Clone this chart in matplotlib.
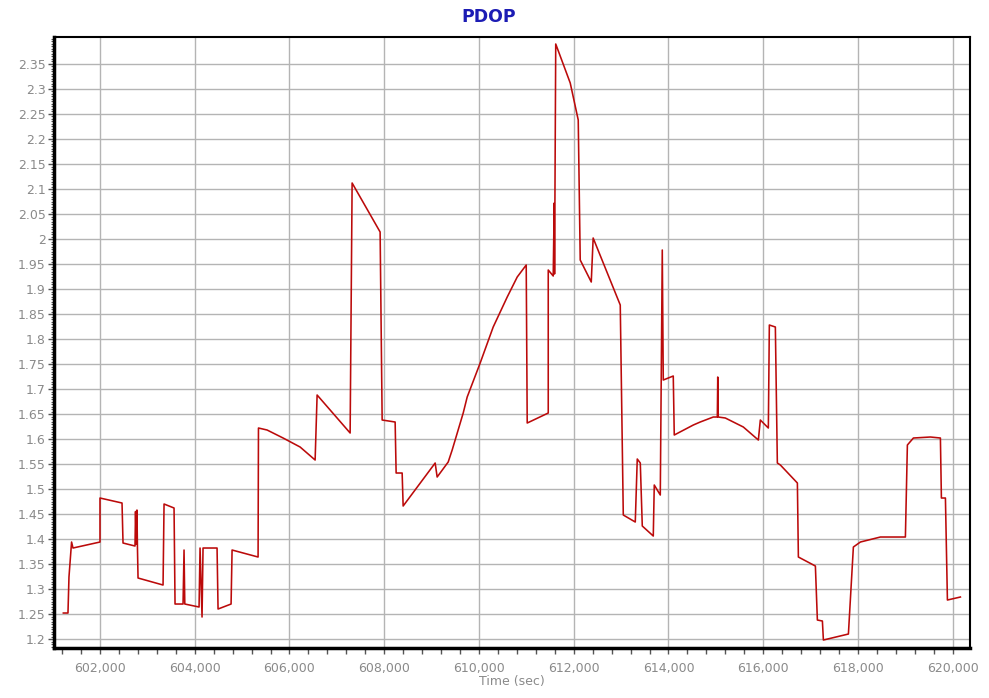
import numpy as np
import matplotlib
matplotlib.use("Agg")
import matplotlib.pyplot as plt
from matplotlib.ticker import MultipleLocator, FixedLocator, FuncFormatter

# PDOP trace (time in seconds, PDOP value)
time_sec = [
    601226, 601324, 601345, 601400, 601430, 602000, 602000, 602465, 602486,
    602739, 602750, 602765, 602780, 602790, 602803, 603331, 603352, 603563,
    603584, 603753, 603774, 603790, 604091, 604112, 604154, 604175, 604471,
    604492, 604767, 604788, 605337, 605345, 605527, 605865, 606224, 606541,
    606583, 607280, 607322, 607913, 607956, 608230, 608251, 608378, 608399,
    609075, 609117, 609350, 609434, 609667, 609751, 610025, 610300, 610596,
    610807, 610997, 611018, 611462, 611462, 611567, 611588, 611595, 611620,
    611926, 612095, 612137, 612370, 612410, 612982, 613046, 613299, 613341,
    613405, 613447, 613679, 613700, 613827, 613869, 613890, 614101, 614122,
    614524, 614670, 614946, 615031, 615040, 615050, 615200, 615580, 615897,
    615939, 616108, 616129, 616256, 616298, 616362, 616721, 616742, 617101,
    617143, 617249, 617270, 617798, 617903, 618051, 618473, 619001, 619043,
    619170, 619529, 619740, 619761, 619846, 619888, 620162,
]
pdop = [
    1.252, 1.252, 1.324, 1.394, 1.382, 1.394, 1.482, 1.472, 1.392,
    1.386, 1.455, 1.390, 1.458, 1.386, 1.322, 1.308, 1.470, 1.462,
    1.270, 1.270, 1.378, 1.270, 1.264, 1.382, 1.244, 1.382, 1.382,
    1.260, 1.270, 1.378, 1.364, 1.622, 1.618, 1.602, 1.584, 1.558,
    1.688, 1.612, 2.112, 2.014, 1.638, 1.634, 1.532, 1.532, 1.466,
    1.552, 1.524, 1.554, 1.578, 1.652, 1.684, 1.752, 1.824, 1.884,
    1.924, 1.948, 1.632, 1.652, 1.938, 1.926, 2.072, 1.930, 2.390,
    2.312, 2.238, 1.958, 1.914, 2.002, 1.868, 1.448, 1.434, 1.560,
    1.552, 1.426, 1.406, 1.508, 1.488, 1.978, 1.718, 1.726, 1.608,
    1.628, 1.634, 1.644, 1.644, 1.724, 1.644, 1.642, 1.624, 1.598,
    1.638, 1.622, 1.828, 1.824, 1.552, 1.548, 1.512, 1.364, 1.346,
    1.238, 1.236, 1.198, 1.210, 1.384, 1.394, 1.404, 1.404, 1.588,
    1.602, 1.604, 1.602, 1.482, 1.482, 1.278, 1.284,
]
y_ticks = np.round(np.arange(1.2, 2.351, 0.05), 2)

fig = plt.figure(figsize=(9.89, 6.98), dpi=100)
ax = fig.add_axes([0.0546, 0.0716, 0.9262, 0.8754])

ax.plot(time_sec, pdop, color="#bb0a0a", lw=1.15, zorder=3)

ax.set_xlim(601029, 620365)
ax.set_ylim(1.182, 2.404)

ax.xaxis.set_major_locator(MultipleLocator(2000))
ax.xaxis.set_minor_locator(MultipleLocator(400))
ax.yaxis.set_major_locator(FixedLocator(y_ticks))
ax.yaxis.set_minor_locator(MultipleLocator(0.005))
ax.xaxis.set_major_formatter(FuncFormatter(lambda v, p: "{:,.0f}".format(v)))
ax.yaxis.set_major_formatter(FuncFormatter(lambda v, p: "%g" % round(v, 2)))

ax.grid(True, which="major", color="#b4b4b4", lw=1.0)
ax.set_axisbelow(True)

ax.tick_params(axis="both", which="major", direction="out", length=4,
               width=1, colors="#555555", labelcolor="#8a8a8a", labelsize=9)
ax.tick_params(axis="x", which="major", pad=6)
ax.tick_params(axis="y", which="major", pad=2)
ax.tick_params(axis="x", which="minor", direction="out", length=4, width=1,
               color="#555555")
ax.tick_params(axis="y", which="minor", direction="out", length=2, width=0.8,
               color="#555555")

for side in ["left", "bottom"]:
    ax.spines[side].set_linewidth(2.5)
for side in ["top", "right"]:
    ax.spines[side].set_linewidth(1.5)

ax.set_xlabel("Time (sec)", fontsize=9, color="#8a8a8a", labelpad=0)
fig.text(0.494, 1 - 17 / 698, "PDOP", ha="center", va="center",
         fontsize=12.5, fontweight="bold", color="#1c1cb4")

fig.savefig("out.png", dpi=100)
